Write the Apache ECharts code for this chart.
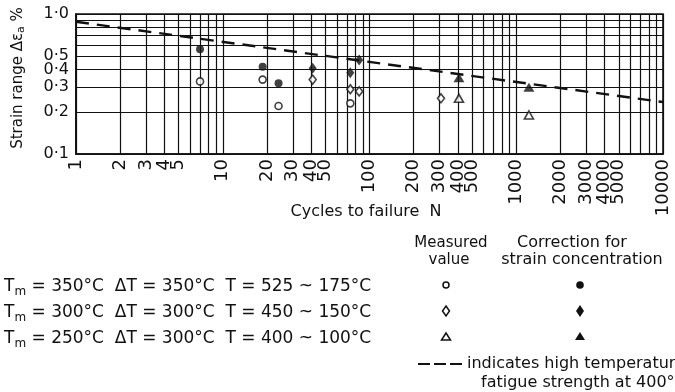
<!DOCTYPE html>
<html><head><meta charset="utf-8">
<script src="https://cdn.jsdelivr.net/npm/echarts@6/dist/echarts.min.js"></script>
<style>html,body{margin:0;padding:0;background:#fff}#c{width:675px;height:392px}</style>
</head><body><div id="c"></div>
<script>
// ---- axis ticks ----
const xTickLabels = [1,2,3,4,5,10,20,30,40,50,100,200,300,400,500,1000,2000,3000,4000,5000,10000];
const xGridValues = [1,2,3,4,5,6,7,8,9,10,20,30,40,50,60,70,80,90,100,200,300,400,500,600,700,800,900,1000,2000,3000,4000,5000,6000,7000,8000,9000,10000];
const yTickLabels = [0.1,0.2,0.3,0.4,0.5,1.0];
const yGridValues = [0.1,0.2,0.3,0.4,0.5,0.6,0.7,0.8,0.9,1.0];

// ---- data: Tm = 350°C (circles) ----
const tm350N = [7, 18.7, 24, 74];
const tm350Measured = [0.33, 0.34, 0.22, 0.23];
const tm350CorrN = [7, 18.7, 24];
const tm350Corrected = [0.56, 0.42, 0.32];
// ---- Tm = 300°C (diamonds) ----
const tm300N = [41, 74, 85, 307];
const tm300Measured = [0.34, 0.29, 0.28, 0.25];
const tm300CorrN = [41, 74, 85];
const tm300Corrected = [0.41, 0.38, 0.47];
// ---- Tm = 250°C (triangles) ----
const tm250N = [407, 1220];
const tm250Measured = [0.25, 0.19];
const tm250Corrected = [0.35, 0.30];
// ---- high temperature fatigue strength at 400°C (dashed) ----
const fatigueN = [1, 10000];
const fatigueStrength = [0.88, 0.235];

const pairs = (xs, ys) => xs.map((x, i) => [x, ys[i]]);
const FONT = 'DejaVu Sans';
const INK = '#111';

const openStyle = {color: '#fff', borderColor: INK, borderWidth: 1.6};
const fillStyle = {color: INK, borderColor: INK, borderWidth: 0};
const subRich = (fs, pad) => ({s: {fontSize: fs, fontFamily: FONT, fill: INK, padding: [pad, 0, 0, 0]}});

const chart = echarts.init(document.getElementById('c'), null, {renderer: 'canvas'});
const option = {
  animation: false,
  backgroundColor: '#fff',
  grid: {left: 76, right: 12, top: 14, bottom: 238, show: true, borderColor: INK, borderWidth: 1.6, backgroundColor: 'transparent'},
  xAxis: {
    type: 'log', logBase: 10, min: 1, max: 10000,
    axisLine: {show: true, onZero: false, lineStyle: {color: INK, width: 1.6}},
    axisTick: {show: false, customValues: xGridValues},
    splitLine: {show: true, lineStyle: {color: INK, width: 1.2}},
    minorTick: {show: false}, minorSplitLine: {show: false},
    axisLabel: {customValues: xTickLabels, rotate: 90, margin: 5, color: INK, fontFamily: FONT, fontSize: 18,
      formatter: v => String(Math.round(v))}
  },
  yAxis: {
    type: 'log', logBase: 10, min: 0.1, max: 1,
    axisLine: {show: true, lineStyle: {color: INK, width: 1.6}},
    axisTick: {show: false, customValues: yGridValues},
    splitLine: {show: true, lineStyle: {color: INK, width: 1.2}},
    axisLabel: {customValues: yTickLabels, margin: 7, color: INK, fontFamily: FONT, fontSize: 16,
      formatter: v => (Math.round(v * 10) / 10).toFixed(1).replace('.', '·')}
  },
  series: [
    {type: 'line', data: pairs(fatigueN, fatigueStrength), symbol: 'none', z: 3,
      lineStyle: {color: INK, width: 2.4, type: [13, 8]}},
    {type: 'scatter', symbol: 'circle', symbolSize: 7, itemStyle: openStyle, data: pairs(tm350N, tm350Measured), z: 4},
    {type: 'scatter', symbol: 'circle', symbolSize: 8, itemStyle: fillStyle, data: pairs(tm350CorrN, tm350Corrected), z: 4},
    {type: 'scatter', symbol: 'diamond', symbolSize: [7, 9], itemStyle: openStyle, data: pairs(tm300N, tm300Measured), z: 4},
    {type: 'scatter', symbol: 'diamond', symbolSize: [8, 11], itemStyle: fillStyle, data: pairs(tm300CorrN, tm300Corrected), z: 4},
    {type: 'scatter', symbol: 'triangle', symbolSize: [9, 8], itemStyle: openStyle, data: pairs(tm250N, tm250Measured), z: 4},
    {type: 'scatter', symbol: 'triangle', symbolSize: [11, 9], itemStyle: fillStyle, data: pairs(tm250N, tm250Corrected), z: 4}
  ],
  graphic: [
    {type: 'text', x: 18, y: 78, rotation: Math.PI / 2, style: {
      text: 'Strain range Δε{s|a} %', fill: INK, font: '15px ' + FONT, align: 'center', verticalAlign: 'middle',
      rich: subRich(11, 7)}},
    {type: 'text', x: 366, y: 212, style: {text: 'Cycles to failure  N', fill: INK, font: '16px ' + FONT, align: 'center', verticalAlign: 'middle'}},
    {type: 'text', x: 451, y: 243, style: {text: 'Measured', fill: INK, font: '15px ' + FONT, align: 'center', verticalAlign: 'middle'}},
    {type: 'text', x: 449, y: 260, style: {text: 'value', fill: INK, font: '15px ' + FONT, align: 'center', verticalAlign: 'middle'}},
    {type: 'text', x: 572, y: 243, style: {text: 'Correction for', fill: INK, font: '16px ' + FONT, align: 'center', verticalAlign: 'middle'}},
    {type: 'text', x: 582, y: 260, style: {text: 'strain concentration', fill: INK, font: '16px ' + FONT, align: 'center', verticalAlign: 'middle'}},
    {type: 'text', x: 4, y: 287, style: {text: 'T{s|m} = 350°C  ΔT = 350°C  T = 525 ~ 175°C', fill: INK, font: '17px ' + FONT, verticalAlign: 'middle', rich: subRich(12, 9)}},
    {type: 'text', x: 4, y: 313, style: {text: 'T{s|m} = 300°C  ΔT = 300°C  T = 450 ~ 150°C', fill: INK, font: '17px ' + FONT, verticalAlign: 'middle', rich: subRich(12, 9)}},
    {type: 'text', x: 4, y: 339, style: {text: 'T{s|m} = 250°C  ΔT = 300°C  T = 400 ~ 100°C', fill: INK, font: '17px ' + FONT, verticalAlign: 'middle', rich: subRich(12, 9)}},
    {type: 'circle', shape: {cx: 446, cy: 285, r: 3}, style: {fill: '#fff', stroke: INK, lineWidth: 1.5}},
    {type: 'circle', shape: {cx: 580, cy: 285, r: 3.8}, style: {fill: INK}},
    {type: 'polygon', shape: {points: [[446, 306], [449.5, 311], [446, 316], [442.5, 311]]}, style: {fill: '#fff', stroke: INK, lineWidth: 1.5}},
    {type: 'polygon', shape: {points: [[580, 305], [584, 311], [580, 317], [576, 311]]}, style: {fill: INK}},
    {type: 'polygon', shape: {points: [[446, 333], [450.5, 340], [441.5, 340]]}, style: {fill: '#fff', stroke: INK, lineWidth: 1.5}},
    {type: 'polygon', shape: {points: [[580, 332], [585, 340], [575, 340]]}, style: {fill: INK}},
    {type: 'line', shape: {x1: 418, y1: 364, x2: 462, y2: 364}, style: {stroke: INK, lineWidth: 2, lineDash: [12, 4]}},
    {type: 'text', x: 467, y: 364, style: {text: 'indicates high temperature', fill: INK, font: '16px ' + FONT, verticalAlign: 'middle'}},
    {type: 'text', x: 481, y: 383, style: {text: 'fatigue strength at 400°C', fill: INK, font: '16px ' + FONT, verticalAlign: 'middle'}}
  ]
};
chart.setOption(option);
</script>
</body></html>
